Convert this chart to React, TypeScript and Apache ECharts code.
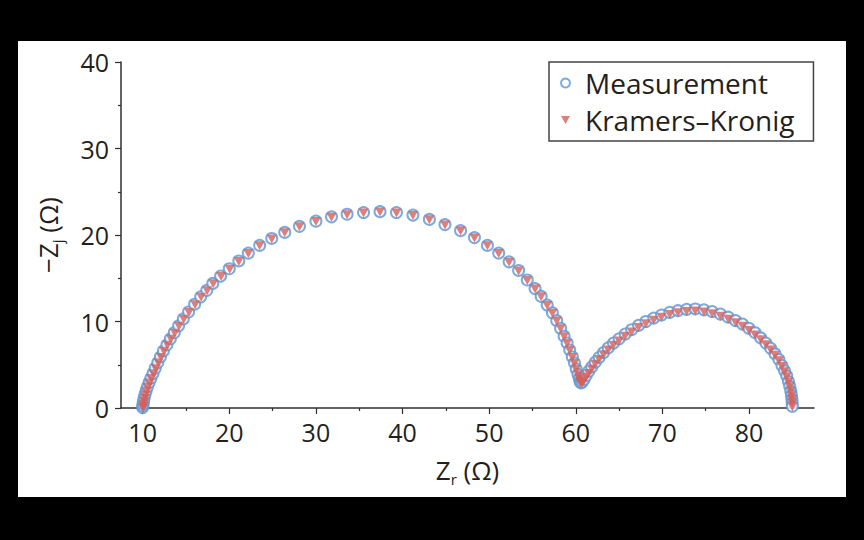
import React, { useEffect, useRef } from "react";
import * as echarts from "echarts";

const FONT = "'Open Sans', 'Noto Sans', sans-serif";
const TEXT = "#241f1b";
const AXIS = "#2f2f2f";
const BLUE = "#5b95d3";
const RED = "#d2605e";

const seriesNames = ["Measurement", "Kramers–Kronig"];
const xTickValues = [10, 20, 30, 40, 50, 60, 70, 80];
const xMinorTickValues = [15, 25, 35, 45, 55, 65, 75, 85];

// Measurement: Zr (Ω), −Zi (Ω)
const measZr = [
  10.0, 10.02, 10.05, 10.1, 10.17, 10.27, 10.4, 10.55, 10.75, 10.95,
  11.2, 11.45, 11.75, 12.05, 12.4, 12.8, 13.2, 13.65, 14.15, 14.7,
  15.3, 16.0, 16.7, 17.4, 18.1, 19.0, 20.0, 21.1, 22.2, 23.5,
  24.9, 26.4, 28.1, 30.0, 31.8, 33.6, 35.5, 37.4, 39.3, 41.2,
  43.1, 44.9, 46.7, 48.3, 49.8, 51.1, 52.3, 53.4, 54.4, 55.3,
  56.0, 56.7, 57.3, 57.8, 58.25, 58.65, 59.0, 59.3, 59.6, 59.85,
  60.05, 60.25, 60.4, 60.5, 60.6,
  60.75, 60.95, 61.2, 61.5, 61.85, 62.25, 62.7, 63.2, 63.75, 64.35,
  65.0, 65.7, 66.45, 67.25, 68.1, 69.0, 69.9, 70.85, 71.8, 72.8,
  73.8, 74.8, 75.75, 76.7, 77.6, 78.45, 79.25, 80.0, 80.7, 81.35,
  81.95, 82.5, 83.0, 83.45, 83.8, 84.1, 84.35, 84.55, 84.7, 84.82,
  84.9, 84.95, 84.98, 85.0,
];
const measZi = [
  0.05, 0.25, 0.5, 0.8, 1.15, 1.55, 2.0, 2.45, 2.95, 3.45,
  4.0, 4.6, 5.25, 5.9, 6.6, 7.3, 8.0, 8.7, 9.5, 10.3,
  11.1, 12.0, 12.85, 13.6, 14.4, 15.25, 16.1, 17.0, 17.9, 18.8,
  19.6, 20.3, 21.0, 21.6, 22.1, 22.4, 22.6, 22.7, 22.6, 22.3,
  21.8, 21.2, 20.5, 19.7, 18.8, 17.9, 16.9, 15.9, 14.8, 13.8,
  12.9, 11.9, 11.0, 10.1, 9.2, 8.3, 7.5, 6.7, 5.9, 5.2,
  4.5, 3.9, 3.4, 3.05, 2.9,
  3.0, 3.3, 3.75, 4.25, 4.75, 5.3, 5.85, 6.4, 6.95, 7.5,
  8.0, 8.55, 9.05, 9.55, 10.0, 10.4, 10.75, 11.05, 11.25, 11.4,
  11.45, 11.35, 11.15, 10.85, 10.5, 10.1, 9.7, 9.2, 8.7, 8.1,
  7.5, 6.9, 6.25, 5.6, 4.9, 4.3, 3.7, 3.05, 2.5, 1.95,
  1.45, 1.0, 0.6, 0.2,
];

// Kramers–Kronig: Zr (Ω), −Zi (Ω)
const kkZr = [
  10.05, 10.08, 10.12, 10.17, 10.24, 10.34, 10.47, 10.62, 10.82, 11.02,
  11.27, 11.52, 11.82, 12.12, 12.47, 12.87, 13.27, 13.72, 14.2, 14.75,
  15.35, 16.05, 16.75, 17.45, 18.15, 19.05, 20.05, 21.1, 22.2, 23.5,
  24.9, 26.4, 28.1, 30.0, 31.8, 33.6, 35.5, 37.4, 39.3, 41.2,
  43.1, 44.9, 46.7, 48.3, 49.8, 51.1, 52.3, 53.4, 54.4, 55.3,
  56.0, 56.7, 57.3, 57.8, 58.25, 58.65, 59.0, 59.3, 59.6, 59.85,
  60.05, 60.25, 60.4, 60.5, 60.6,
  60.75, 60.95, 61.2, 61.5, 61.85, 62.25, 62.7, 63.2, 63.75, 64.35,
  65.0, 65.7, 66.45, 67.25, 68.1, 69.0, 69.9, 70.85, 71.8, 72.8,
  73.8, 74.8, 75.75, 76.7, 77.6, 78.45, 79.25, 80.0, 80.7, 81.35,
  81.95, 82.5, 83.0, 83.45, 83.8, 84.1, 84.35, 84.55, 84.7, 84.82,
  84.9, 84.95, 84.98, 85.0,
];
const kkZi = [
  0.0, 0.2, 0.45, 0.75, 1.1, 1.5, 1.95, 2.4, 2.9, 3.4,
  3.95, 4.55, 5.2, 5.85, 6.55, 7.25, 7.95, 8.65, 9.45, 10.25,
  11.05, 11.95, 12.8, 13.55, 14.35, 15.2, 16.05, 16.95, 17.85, 18.75,
  19.55, 20.25, 20.95, 21.55, 22.05, 22.35, 22.55, 22.65, 22.55, 22.25,
  21.75, 21.15, 20.45, 19.65, 18.75, 17.85, 16.85, 15.85, 14.75, 13.75,
  12.85, 11.85, 10.95, 10.05, 9.15, 8.25, 7.45, 6.65, 5.85, 5.15,
  4.45, 3.85, 3.35, 3.0, 2.85,
  2.9, 3.15, 3.55, 4.0, 4.5, 5.05, 5.6, 6.15, 6.7, 7.25,
  7.75, 8.3, 8.8, 9.3, 9.75, 10.15, 10.5, 10.8, 11.0, 11.15,
  11.2, 11.1, 10.9, 10.6, 10.25, 9.85, 9.45, 8.95, 8.45, 7.9,
  7.3, 6.7, 6.1, 5.45, 4.8, 4.2, 3.6, 3.0, 2.45, 1.9,
  1.4, 0.95, 0.55, 0.15,
];

export default function App() {
  const ref = useRef<HTMLDivElement>(null);

  useEffect(() => {
    if (!ref.current) return;
    const chart = echarts.init(ref.current, undefined, { renderer: "svg" });
    const nameStyle = {
      fontFamily: FONT,
      fontSize: 26,
      color: TEXT,
      lineHeight: 30,
      rich: {
        sub: { fontFamily: FONT, fontSize: 15, color: TEXT, lineHeight: 30, padding: [18, 0, 0, 0] },
      },
    };
    chart.setOption({
      animation: false,
      backgroundColor: "#ffffff",
      textStyle: { fontFamily: FONT },
      grid: { left: 103, top: 21, width: 693, height: 346, outerBoundsMode: "none" },
      legend: {
        orient: "vertical",
        left: 531,
        top: 21,
        data: [
          { name: seriesNames[0], icon: "emptyCircle" },
          { name: seriesNames[1], icon: "path://M0,0L10,0L5,9Z" },
        ],
        itemWidth: 9,
        itemHeight: 9,
        itemGap: 9,
        padding: [7, 19, 7, 11],
        borderColor: "#444",
        borderWidth: 1.5,
        backgroundColor: "#fff",
        itemStyle: { borderWidth: 2 },
        textStyle: { fontFamily: FONT, fontSize: 28, color: TEXT, padding: [0, 0, 0, 10] },
      },
      xAxis: [
        {
          type: "value",
          min: 7.5,
          max: 87.5,
          name: "Z{sub|r} (Ω)",
          nameLocation: "middle",
          nameGap: 47,
          nameTextStyle: nameStyle,
          axisLine: { show: true, onZero: false, lineStyle: { color: AXIS, width: 1.5 } },
          axisTick: { show: true, customValues: xTickValues, length: 6, lineStyle: { color: AXIS, width: 1.2 } },
          axisLabel: { customValues: xTickValues, fontFamily: FONT, fontSize: 25, color: TEXT, margin: 11 },
          splitLine: { show: false },
        },
        {
          type: "value",
          min: 7.5,
          max: 87.5,
          position: "bottom",
          axisLine: { show: false },
          axisTick: { show: true, customValues: xMinorTickValues, length: 3, lineStyle: { color: AXIS, width: 1.2 } },
          axisLabel: { show: false },
          splitLine: { show: false },
        },
      ],
      yAxis: {
        type: "value",
        min: 0,
        max: 40,
        interval: 10,
        name: "−Z{sub|j} (Ω)",
        nameLocation: "middle",
        nameRotate: 90,
        nameGap: 58,
        nameTextStyle: nameStyle,
        axisLine: { show: true, lineStyle: { color: AXIS, width: 1.5 } },
        axisTick: { show: true, length: 6, lineStyle: { color: AXIS, width: 1.2 } },
        minorTick: { show: true, splitNumber: 2, length: 3, lineStyle: { color: AXIS, width: 1.2 } },
        axisLabel: { fontFamily: FONT, fontSize: 25, color: TEXT, margin: 12 },
        splitLine: { show: false },
      },
      series: [
        {
          type: "scatter",
          name: seriesNames[0],
          data: measZr.map((x, i) => [x, measZi[i]]),
          symbol: "emptyCircle",
          symbolSize: 11,
          itemStyle: { color: BLUE, borderColor: BLUE, borderWidth: 2.4 },
          z: 2,
        },
        {
          type: "scatter",
          name: seriesNames[1],
          data: kkZr.map((x, i) => [x, kkZi[i]]),
          symbol: "triangle",
          symbolRotate: 180,
          symbolSize: [10, 9],
          itemStyle: { color: RED },
          z: 3,
        },
      ],
    });
    return () => chart.dispose();
  }, []);

  return (
    <div style={{ position: "fixed", left: 0, top: 0, width: 864, height: 540, background: "#000" }}>
      <div style={{ position: "absolute", left: 18, top: 41, width: 828, height: 456, background: "#fff" }}>
        <div ref={ref} style={{ width: 828, height: 456 }} />
      </div>
    </div>
  );
}
